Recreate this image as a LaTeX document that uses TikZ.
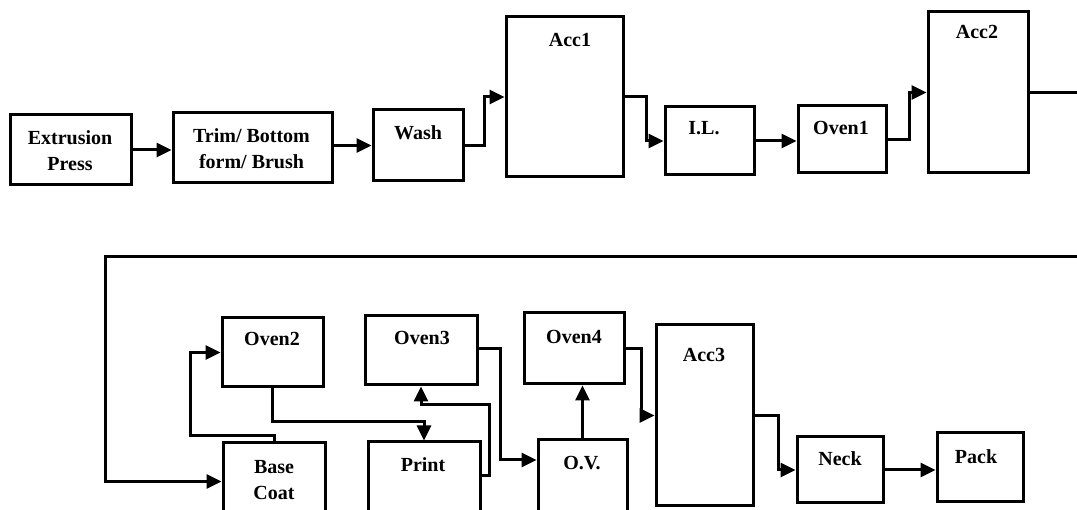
\documentclass[tikz,border=0pt]{standalone}
\usepackage{fontspec}
\setmainfont{Liberation Serif}
\usetikzlibrary{arrows.meta}
\begin{document}
\begin{tikzpicture}[x=1pt,y=-1pt,
  box/.style={draw,line width=3pt,inner sep=0pt,rectangle},
  lbl/.style={font=\fontsize{20}{26}\selectfont\bfseries,align=center,inner sep=0pt},
  conn/.style={line width=3pt},
  arr/.style={conn,-{Triangle[length=15pt,width=14pt]}}]
\useasboundingbox (0,0) rectangle (1077,510);
% top row boxes
\node[box,minimum width=121pt,minimum height=70pt] (ext) at (70.5,150) {};
\node[box,minimum width=159pt,minimum height=70pt] (trim) at (252.5,148) {};
\node[box,minimum width=90pt,minimum height=71pt] (wash) at (418,145.5) {};
\node[box,minimum width=117pt,minimum height=160pt] (acc1) at (564.5,97) {};
\node[box,minimum width=89pt,minimum height=68pt] (il) at (709.5,141) {};
\node[box,minimum width=88pt,minimum height=67pt] (oven1) at (842,139.5) {};
\node[box,minimum width=100pt,minimum height=161pt] (acc2) at (978,92.5) {};
% bottom row boxes
\node[box,minimum width=102pt,minimum height=77pt] (base) at (274,481.5) {};
\node[box,minimum width=101pt,minimum height=69pt] (oven2) at (272.5,352.5) {};
\node[box,minimum width=112pt,minimum height=69pt] (oven3) at (421,350.5) {};
\node[box,minimum width=112pt,minimum height=78pt] (print) at (424,481) {};
\node[box,minimum width=100pt,minimum height=71pt] (oven4) at (574,348.5) {};
\node[box,minimum width=89pt,minimum height=80pt] (ov) at (582.5,480) {};
\node[box,minimum width=97pt,minimum height=181pt] (acc3) at (704.5,415.5) {};
\node[box,minimum width=86pt,minimum height=66pt] (neck) at (840,470) {};
\node[box,minimum width=86pt,minimum height=69pt] (pack) at (980,467.5) {};
% labels
\node[lbl] (text) at (70,151) {Extrusion\\Press};
\node[lbl] (ttrim) at (251.5,149) {Trim/ Bottom\\form/ Brush};
\node[lbl] (twash) at (418,133) {Wash};
\node[lbl] (tacc1) at (570,40) {Acc1};
\node[lbl] (til) at (704,128) {I.L.};
\node[lbl] (toven1) at (841,128) {Oven1};
\node[lbl] (tacc2) at (977,32) {Acc2};
\node[lbl] (toven2) at (272,339) {Oven2};
\node[lbl] (toven3) at (422,338) {Oven3};
\node[lbl] (tbase) at (274,480) {Base\\Coat};
\node[lbl] (tprint) at (423,465) {Print};
\node[lbl] (toven4) at (574,337) {Oven4};
\node[lbl] (tacc3) at (704,355) {Acc3};
\node[lbl] (tov) at (582,463) {O.V.};
\node[lbl] (tneck) at (840,459) {Neck};
\node[lbl] (tpack) at (976,457) {Pack};
% coordinates for free ends
\coordinate (e1) at (1085,92);
\coordinate (e2) at (1085,257);
\coordinate (k) at (105,257);
% top connectors
\draw[arr] (ext.east) -- (ext.east -| trim.west);
\draw[arr] (trim.east |- wash) -- (wash.west);
\draw[arr] (wash.east) -- ++(20,0) |- (acc1.west);
\draw[arr] (acc1.east) -- ++(22,0) |- (il.west);
\draw[arr] (il.east) -- (il.east -| oven1.west);
\draw[arr] (oven1.east) -- ++(22,0) |- (acc2.west);
\draw[conn] (acc2.east) -- (acc2.east -| e1);
% bottom connectors
\draw[arr] (e2) -- (k) |- (base.west);
\draw[arr] (base.north) -- ++(0,-6) -- ++(-84,0) |- (oven2.west);
\draw[arr] (oven2.south) -- ++(0,33) -| (print.north);
\draw[arr] ([yshift=5pt]print.east) -- ++(8,0) -- ++(0,-71) -| (oven3.south);
\draw[arr] ([yshift=1.5pt]oven3.east) -- ++(22,0) |- ([yshift=20pt]ov.west);
\draw[arr] (ov.north) -- (ov.north |- oven4.south);
\draw[arr] (oven4.east) -- ++(16,0) |- (acc3.west);
\draw[arr] (acc3.east) -- ++(24,0) |- (neck.west);
\draw[arr] (neck.east) -- (neck.east -| pack.west);
\end{tikzpicture}
\end{document}
